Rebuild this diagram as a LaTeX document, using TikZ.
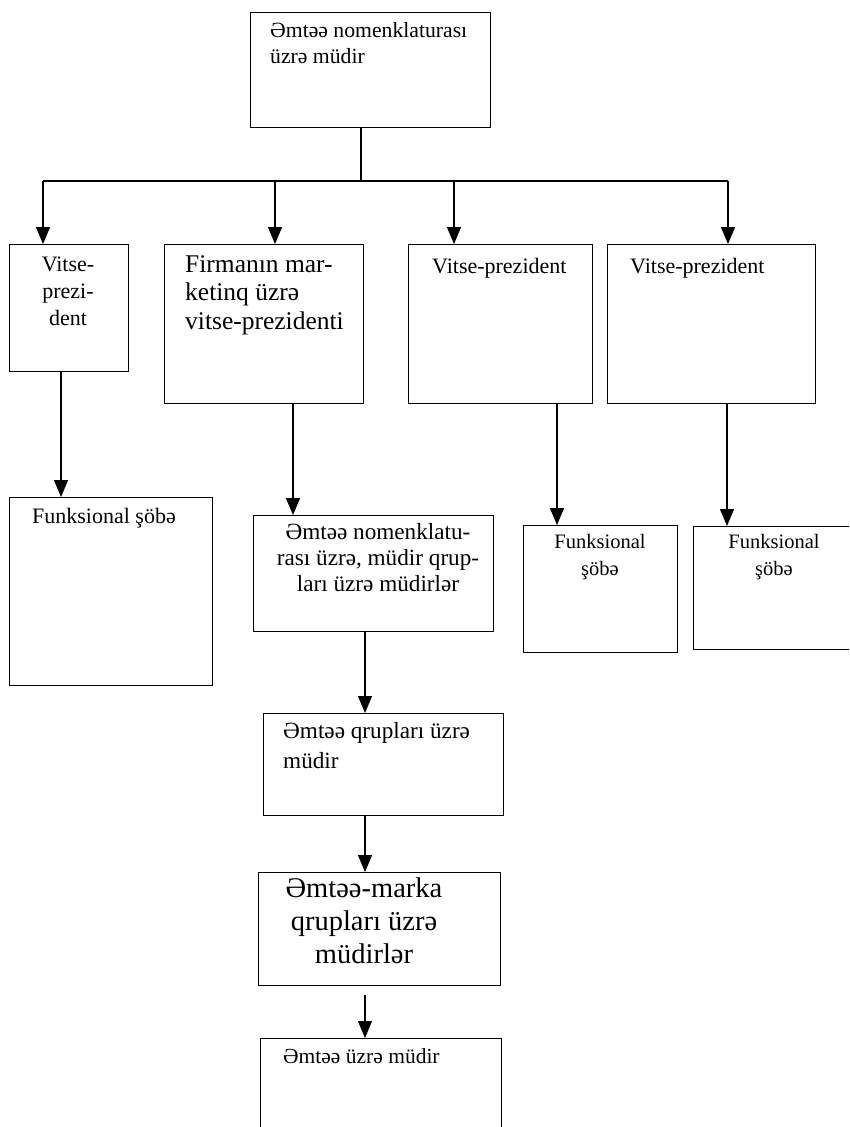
\documentclass[tikz,border=0pt]{standalone}
\usepackage{fontspec}
\setmainfont{Liberation Serif}
\usetikzlibrary{arrows.meta}

\begin{document}
\begin{tikzpicture}[x=1pt,y=-1pt,
  box/.style={draw, line width=1.4pt, rectangle, inner sep=0pt, anchor=north west},
  txt/.style={inner sep=0pt, anchor=north west, align=left},
  ctxt/.style={inner sep=0pt, anchor=north, align=center},
  link/.style={line width=1.3pt},
  arr/.style={line width=1.3pt, -{Triangle[width=14pt,length=17pt]}}]

\useasboundingbox (0,0) rectangle (849,1127);
\clip (0,0) rectangle (849,1127);

% boxes (top-left corner, size)
\node[box, minimum width=240pt, minimum height=115pt] (top) at (250,12) {};
\node[box, minimum width=119pt, minimum height=127pt] (v1) at (9,244) {};
\node[box, minimum width=199pt, minimum height=159pt] (v2) at (164,244) {};
\node[box, minimum width=184pt, minimum height=159pt] (v3) at (408,244) {};
\node[box, minimum width=208pt, minimum height=159pt] (v4) at (607,244) {};
\node[box, minimum width=203pt, minimum height=188pt] (f1) at (9,497) {};
\node[box, minimum width=240pt, minimum height=116pt] (mid) at (253,515) {};
\node[box, minimum width=154pt, minimum height=127pt] (f3) at (523,525) {};
\node[box, minimum width=170pt, minimum height=123pt] (f4) at (693,526) {};
\node[box, minimum width=240pt, minimum height=102pt] (grp) at (263,713) {};
\node[box, minimum width=242pt, minimum height=113pt] (mark) at (258,872) {};
\node[box, minimum width=241pt, minimum height=110pt] (item) at (260,1038) {};

% texts
\node[txt, font=\fontsize{21.7}{26}\selectfont] (ttop) at (270,22.5)
  {Əmtəə nomenklaturası\\üzrə müdir};
\node[ctxt, font=\fontsize{22}{27}\selectfont] (tv1) at (68,257)
  {Vitse-\\prezi-\\dent};
\node[txt, font=\fontsize{25.5}{28.5}\selectfont] (tv2) at (185,255)
  {Firmanın mar-\\ketinq üzrə\\vitse-prezidenti};
\node[txt, font=\fontsize{22}{26}\selectfont] (tv3) at (432,258) {Vitse-prezident};
\node[txt, font=\fontsize{22}{26}\selectfont] (tv4) at (630,258) {Vitse-prezident};
\node[txt, font=\fontsize{22}{26}\selectfont] (tf1) at (32,508) {Funksional şöbə};
\node[ctxt, font=\fontsize{23.2}{26}\selectfont] (tmid) at (378,523)
  {Əmtəə nomenklatu-\\rası üzrə, müdir qrup-\\ları üzrə müdirlər};
\node[ctxt, font=\fontsize{20.5}{27}\selectfont] (tf3) at (600,534) {Funksional\\şöbə};
\node[ctxt, font=\fontsize{20.5}{27}\selectfont] (tf4) at (774,534) {Funksional\\şöbə};
\node[txt, font=\fontsize{23.2}{30}\selectfont] (tgrp) at (283,722)
  {Əmtəə qrupları üzrə\\müdir};
\node[ctxt, font=\fontsize{28.5}{33}\selectfont] (tmark) at (364,878)
  {Əmtəə-marka\\qrupları üzrə\\müdirlər};
\node[txt, font=\fontsize{21.5}{26}\selectfont] (titem) at (283,1048) {Əmtəə üzrə müdir};

% connector guides
\coordinate (xs) at (361,0);
\coordinate (xa1) at (43,0);
\coordinate (xa2) at (275,0);
\coordinate (xa3) at (454,0);
\coordinate (xa4) at (728,0);
\coordinate (busy) at (0,181);
\coordinate (xb1) at (61,0);
\coordinate (xb2) at (293,0);
\coordinate (xb3) at (557,0);
\coordinate (xb4) at (727,0);
\coordinate (xc) at (365,0);
\coordinate (gapy) at (0,995);

% top stem and bus
\draw[link] (top.south -| xs) -- (xs |- busy);
\draw[link] (xa1 |- busy) -- (xa4 |- busy);
\draw[arr] (xa1 |- busy) -- (v1.north -| xa1);
\draw[arr] (xa2 |- busy) -- (v2.north -| xa2);
\draw[arr] (xa3 |- busy) -- (v3.north -| xa3);
\draw[arr] (xa4 |- busy) -- (v4.north -| xa4);

% second level
\draw[arr] (v1.south -| xb1) -- (f1.north -| xb1);
\draw[arr] (v2.south -| xb2) -- (mid.north -| xb2);
\draw[arr] (v3.south -| xb3) -- (f3.north -| xb3);
\draw[arr] (v4.south -| xb4) -- (f4.north -| xb4);

% middle chain
\draw[arr] (mid.south -| xc) -- (grp.north -| xc);
\draw[arr] (grp.south -| xc) -- (mark.north -| xc);
\draw[arr] (xc |- gapy) -- (item.north -| xc);
\end{tikzpicture}
\end{document}
